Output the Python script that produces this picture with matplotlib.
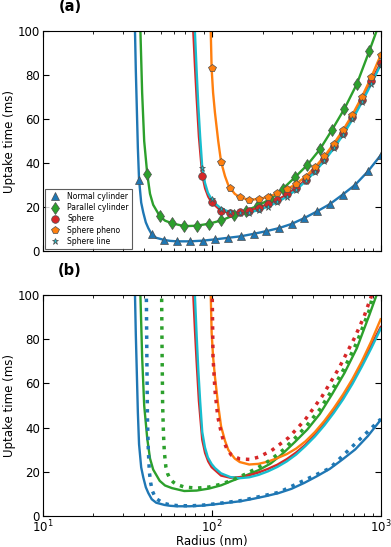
import matplotlib
matplotlib.use("Agg")
import matplotlib.pyplot as plt

# ---- data ----
# normal cylinder (blue)
cyl_n_line_r = [35.0, 35.2, 35.6, 36.0, 36.6, 37.2, 38.3, 39.4, 40.8, 42.2, 44.2, 47.0, 52.6, 57.0,
                62.5, 74.3, 88.4, 105, 125, 149, 177, 210, 250, 297, 354, 420, 500, 595, 707, 841, 1000]
cyl_n_line_t = [115, 100, 82, 68, 47, 32.5, 22, 17.5, 13, 10.4, 7.6, 6.0, 5.0, 4.6,
                4.4, 4.4, 4.7, 5.3, 6.0, 6.7, 7.8, 9.0, 10.4, 12.3, 15.0, 18.0, 21.3, 25.6, 30.1, 36.2, 43.5]
cyl_n_pts_r = [37.2, 44.2, 52.6, 62.5, 74.3, 88.4, 105, 125, 149, 177, 210, 250, 297, 354, 420,
               500, 595, 707, 841, 1000]
cyl_n_pts_t = [32.5, 7.6, 5.0, 4.4, 4.4, 4.7, 5.3, 6.0, 6.7, 7.8, 9.0, 10.4, 12.3, 15.0, 18.0,
               21.3, 25.6, 30.1, 36.2, 43.5]

# parallel cylinder (green)
cyl_p_line_r = [37.6, 37.9, 38.8, 39.9, 41.6, 43.2, 45.1, 49.3, 53.0, 58.3, 68.9, 81.5, 96.4, 114,
                135, 159, 189, 223, 264, 312, 369, 437, 516, 611, 723, 855, 946, 1000]
cyl_p_line_t = [115, 100, 72, 50, 35, 26, 21, 15.9, 13.8, 12.6, 11.3, 11.5, 12.4, 13.9,
                16.2, 18.3, 20.7, 23.7, 28.3, 33.6, 39.2, 46.2, 55.1, 64.7, 75.9, 90.7, 100, 106]
cyl_p_pts_r = [41.6, 49.3, 58.3, 68.9, 81.5, 96.4, 114, 135, 159, 189, 223, 264, 312, 369, 437,
               516, 611, 723, 855]
cyl_p_pts_t = [35, 15.9, 12.6, 11.3, 11.5, 12.4, 13.9, 16.2, 18.3, 20.7, 23.7, 28.3, 33.6, 39.2,
               46.2, 55.1, 64.7, 75.9, 90.7]

# sphere (red)
sph_line_r = [77.6, 77.9, 79.7, 81.5, 84.1, 88.0, 91.5, 95.5, 100, 113.7, 129.2, 146.8, 166.8,
              189.6, 215.4, 244.8, 278.3, 316.2, 359.4, 408.5, 464.2, 527.5, 599.5, 681.3, 774.3, 880, 1000]
sph_line_t = [115, 100, 84, 70, 52, 34.5, 28.5, 24.7, 22.1, 18.3, 17.3, 17.6, 18.4,
              19.7, 21.3, 23.2, 25.7, 28.7, 32.3, 36.8, 42.0, 47.6, 53.6, 60.8, 68.6, 77.3, 85.5]
sph_pts_r = [88.0, 100, 113.7, 129.2, 146.8, 166.8, 189.6, 215.4, 244.8, 278.3, 316.2, 359.4,
             408.5, 464.2, 527.5, 599.5, 681.3, 774.3, 880, 1000]
sph_pts_t = [34.3, 22.1, 18.3, 17.3, 17.6, 18.4, 19.7, 21.3, 23.2, 25.7, 28.7, 32.3,
             36.8, 42.0, 47.6, 53.6, 60.8, 68.6, 77.3, 85.5]

# sphere pheno (orange)
phe_line_r = [98.6, 98.8, 100, 102, 104.6, 109.4, 113.7, 120, 125.4, 129.2, 137, 146.8, 166.8,
              189.6, 215.4, 244.8, 278.3, 316.2, 359.4, 408.5, 464.2, 527.5, 599.5, 681.3, 774.3, 880, 1000]
phe_line_t = [115, 100, 83, 72, 63, 50, 40.6, 34, 30, 28.5, 26, 24.4, 23.3,
              23.6, 24.6, 26.2, 28.0, 30.5, 33.8, 38.0, 43.0, 48.7, 55.0, 62.0, 70.0, 79.0, 89.0]
phe_pts_r = [100, 113.7, 129.2, 146.8, 166.8, 189.6, 215.4, 244.8, 278.3, 316.2, 359.4, 408.5,
             464.2, 527.5, 599.5, 681.3, 774.3, 880, 1000]
phe_pts_t = [83, 40.6, 28.5, 24.4, 23.3, 23.6, 24.6, 26.2, 28.0, 30.5, 33.8, 38.0,
             43.0, 48.7, 55.0, 62.0, 70.0, 79.0, 89.0]

# sphere line (cyan)
sln_line_r = [79.3, 79.6, 81.5, 83.4, 85.5, 88.0, 91.3, 95.0, 100, 104.6, 113.7, 129.2, 146.8,
              166.8, 189.6, 215.4, 244.8, 278.3, 316.2, 359.4, 408.5, 464.2, 527.5, 599.5, 681.3,
              774.3, 880, 1000]
sln_line_t = [115, 100, 82, 66, 52, 38, 31, 26.5, 23.5, 21.7, 19.3, 17.6, 17.1,
              17.5, 18.6, 20.2, 22.2, 24.7, 27.8, 31.7, 36.0, 41.0, 46.6, 52.8, 59.8,
              67.6, 75.9, 84.7]
sln_pts_r = sph_pts_r
sln_pts_t = [37.7, 23.5, 19.3, 17.6, 17.1, 17.5, 18.6, 20.2, 22.2, 24.7, 27.8, 31.7,
             36.0, 41.0, 46.6, 52.8, 59.8, 67.6, 75.9, 84.7]

# dotted curves of panel (b)
cyl_n_dot_r = [41.0, 41.1, 41.4, 41.7, 42.2, 42.8, 43.6, 44.5, 46.0, 47.5, 50.6, 53.0, 57.0, 63.0,
               75.0, 88.0, 105, 150, 250, 500, 1000]
cyl_n_dot_t = [115, 100, 70, 45, 30, 20, 15, 11.5, 9.0, 7.6, 6.3, 5.6, 5.0, 4.7,
               4.6, 4.9, 5.5, 7.0, 10.7, 21.6, 43.8]
cyl_p_dot_r = [50.4, 50.6, 50.9, 51.3, 51.9, 52.5, 53.6, 55.0, 56.6, 59.3, 62.0, 68.9, 81.5, 96.4,
               114, 135, 159, 189, 223, 264, 312, 369, 437, 516, 611, 723, 855, 900]
cyl_p_dot_t = [115, 100, 75, 50, 37, 29, 22.3, 19, 17, 15.3, 14.3, 13.1, 12.6, 13.1,
               14.4, 16.5, 19.0, 22.0, 25.4, 29.8, 35.3, 41.3, 48.3, 57.0, 67.0, 78.5, 93.0, 100]
sph_dot_r = [100.6, 100.8, 101.9, 104.6, 108.7, 114.5, 117.1, 122.8, 131, 147, 168, 189, 226,
             285, 357, 449, 563, 705, 800, 886]
sph_dot_t = [115, 100, 72, 57, 45, 37, 34.5, 30.5, 27.5, 25.8, 25.6, 26.6, 29.6,
             35.4, 43.5, 54.0, 66.5, 81.0, 90.5, 100]

c_blue, c_green, c_red, c_orange, c_cyan = "#1f77b4", "#2ca02c", "#d62728", "#ff7f0e", "#17becf"

fig = plt.figure(figsize=(3.91, 5.47), dpi=100)
ax1 = fig.add_axes([0.109, 0.5411, 0.8645, 0.4022])
ax2 = fig.add_axes([0.109, 0.0567, 0.8645, 0.404])

lines = [(cyl_n_line_r, cyl_n_line_t, c_blue), (cyl_p_line_r, cyl_p_line_t, c_green),
         (sph_line_r, sph_line_t, c_red), (phe_line_r, phe_line_t, c_orange),
         (sln_line_r, sln_line_t, c_cyan)]

for ax in (ax1, ax2):
    for r, t, c in lines:
        ax.plot(r, t, "-", color=c, lw=1.7)

mk = dict(linestyle="none", mec="0.3", mew=0.5)
ax1.plot(cyl_n_pts_r, cyl_n_pts_t, "^", color=c_blue, ms=6, label="Normal cylinder", **mk)
ax1.plot(cyl_p_pts_r, cyl_p_pts_t, "d", color=c_green, ms=6.5, label="Parallel cylinder", **mk)
ax1.plot(sph_pts_r, sph_pts_t, "o", color=c_red, ms=5.5, label="Sphere", **mk)
ax1.plot(phe_pts_r, phe_pts_t, "p", color=c_orange, ms=6, label="Sphere pheno", **mk)
ax1.plot(sln_pts_r, sln_pts_t, "*", color=c_cyan, ms=5, label="Sphere line", **mk)

ax2.plot(cyl_n_dot_r, cyl_n_dot_t, ":", color=c_blue, lw=2.5)
ax2.plot(cyl_p_dot_r, cyl_p_dot_t, ":", color=c_green, lw=2.5)
ax2.plot(sph_dot_r, sph_dot_t, ":", color=c_red, lw=2.5)

leg = ax1.legend(loc="lower left", numpoints=1, fontsize=5.5, borderaxespad=0.25,
                 handletextpad=0.6, labelspacing=0.3, fancybox=False, edgecolor="0.2",
                 borderpad=0.4)
leg.get_frame().set_linewidth(0.8)

for ax, tag in ((ax1, "(a)"), (ax2, "(b)")):
    ax.set_xscale("log")
    ax.set_xlim(10, 1000)
    ax.set_ylim(0, 100)
    ax.set_yticks([0, 20, 40, 60, 80, 100])
    ax.tick_params(which="both", direction="in", top=True, right=True, labelsize=8.5, pad=2)
    ax.tick_params(which="major", length=4)
    ax.tick_params(which="minor", length=2)
    ax.set_ylabel("Uptake time (ms)", fontsize=8.5, labelpad=1)
    ax.text(0.081, 1.11, tag, transform=ax.transAxes, ha="center", va="center",
            fontsize=10.5, fontweight="bold")

ax1.tick_params(labelbottom=False)
ax2.set_xlabel("Radius (nm)", fontsize=8.5, labelpad=0)

fig.savefig("out.png", dpi=100)
